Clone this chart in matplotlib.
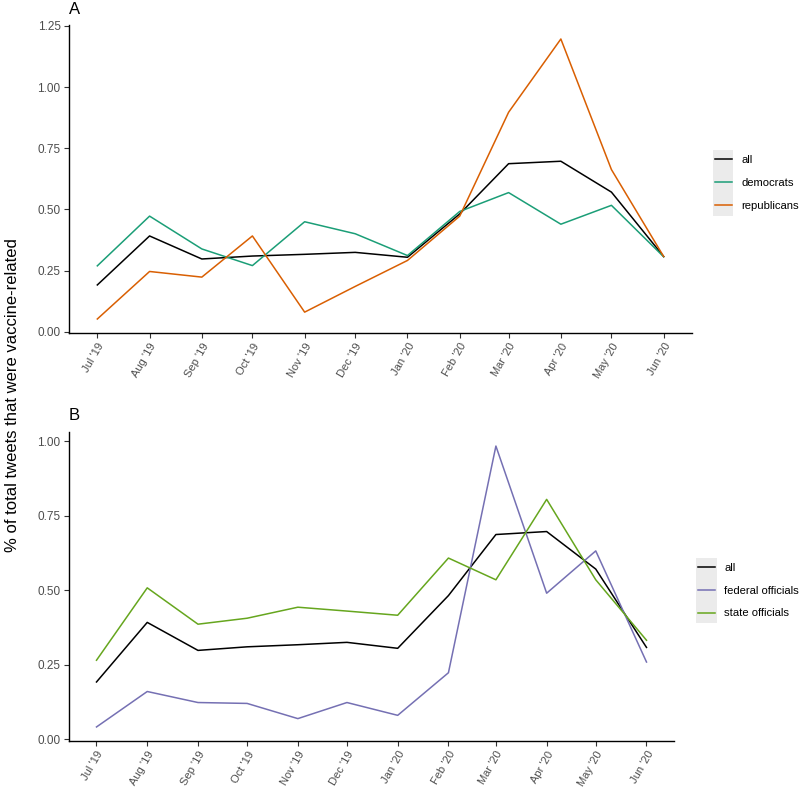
import numpy as np
import matplotlib
matplotlib.use("Agg")
import matplotlib.pyplot as plt
import matplotlib.dates as mdates
from matplotlib.patches import Rectangle
from datetime import date

plt.rcParams['font.family'] = ['Liberation Sans', 'DejaVu Sans']

months = [date(2019, m, 1) for m in range(7, 13)] + [date(2020, m, 1) for m in range(1, 7)]
month_labels = ["Jul '19", "Aug '19", "Sep '19", "Oct '19", "Nov '19", "Dec '19",
                "Jan '20", "Feb '20", "Mar '20", "Apr '20", "May '20", "Jun '20"]

all_tweets = [0.192, 0.392, 0.298, 0.310, 0.317, 0.325, 0.305, 0.482, 0.687, 0.697, 0.571, 0.308]
democrats = [0.270, 0.473, 0.339, 0.271, 0.450, 0.401, 0.312, 0.492, 0.569, 0.440, 0.517, 0.307]
republicans = [0.053, 0.247, 0.224, 0.392, 0.081, 0.186, 0.292, 0.473, 0.897, 1.196, 0.663, 0.308]
federal = [0.041, 0.160, 0.123, 0.120, 0.069, 0.123, 0.080, 0.223, 0.984, 0.490, 0.632, 0.259]
state = [0.265, 0.508, 0.386, 0.406, 0.443, 0.430, 0.416, 0.608, 0.535, 0.805, 0.535, 0.332]

C_ALL = "black"
C_DEM = "#1B9E77"
C_REP = "#D95F02"
C_FED = "#7570B3"
C_STATE = "#66A61E"

W, H = 800, 787
fig = plt.figure(figsize=(W / 100, H / 100), dpi=100)


def fx(px):
    return px / W


def fy(py):
    return 1 - py / H


def style_axes(ax, series):
    x = mdates.date2num(months)
    span = x[-1] - x[0]
    ax.set_xlim(x[0] - 0.05 * span, x[-1] + 0.05 * span)
    vals = np.concatenate([np.asarray(s) for s in series])
    r = vals.max() - vals.min()
    ax.set_ylim(vals.min() - 0.05 * r, vals.max() + 0.05 * r)
    ax.set_xticks(x)
    ax.set_xticklabels(month_labels, rotation=60, ha='right', va='top',
                       rotation_mode='anchor', fontsize=8)
    for sp in ['top', 'right']:
        ax.spines[sp].set_visible(False)
    for sp in ['left', 'bottom']:
        ax.spines[sp].set_linewidth(1.0)
    ax.tick_params(axis='y', labelsize=8.5, pad=2.5)
    ax.tick_params(axis='x', pad=2.5)
    ax.tick_params(labelcolor='#4D4D4D', length=3.5, width=0.8, color='#333333')
    ax.set_facecolor('white')


def legend_with_keys(handles, labels, x0, ytop, ybot, key_w):
    # grey key background like ggplot
    fig.patches.append(Rectangle((fx(x0), fy(ybot)), key_w / W, (ybot - ytop) / H,
                                 transform=fig.transFigure, facecolor='#EBEBEB',
                                 edgecolor='none', zorder=0))
    fig.legend(handles, labels, loc='center left',
               bbox_to_anchor=(fx(x0 + 2), fy((ytop + ybot) / 2)),
               frameon=False, fontsize=8.1, handlelength=1.5, handletextpad=0.85,
               labelspacing=1.15, borderpad=0, borderaxespad=0)


x = mdates.date2num(months)

# Panel A
axA = fig.add_axes([fx(69), fy(333), fx(692) - fx(69), fy(25) - fy(333)])
hA = [axA.plot(x, all_tweets, color=C_ALL, lw=1.1)[0],
      axA.plot(x, democrats, color=C_DEM, lw=1.1)[0],
      axA.plot(x, republicans, color=C_REP, lw=1.1)[0]]
style_axes(axA, [all_tweets, democrats, republicans])
axA.set_yticks([0, 0.25, 0.5, 0.75, 1.0, 1.25])
axA.set_yticklabels(['0.00', '0.25', '0.50', '0.75', '1.00', '1.25'])
legend_with_keys(hA, ['all', 'democrats', 'republicans'], 713, 150, 216, 20)
fig.text(fx(69), fy(10), 'A', fontsize=12, va='center', ha='left')

# Panel B
axB = fig.add_axes([fx(69), fy(741), fx(674) - fx(69), fy(432) - fy(741)])
hB = [axB.plot(x, all_tweets, color=C_ALL, lw=1.1)[0],
      axB.plot(x, federal, color=C_FED, lw=1.1)[0],
      axB.plot(x, state, color=C_STATE, lw=1.1)[0]]
style_axes(axB, [all_tweets, federal, state])
axB.set_yticks([0, 0.25, 0.5, 0.75, 1.0])
axB.set_yticklabels(['0.00', '0.25', '0.50', '0.75', '1.00'])
legend_with_keys(hB, ['all', 'federal officials', 'state officials'], 696, 558, 623, 21)
fig.text(fx(69), fy(415), 'B', fontsize=12, va='center', ha='left')

fig.text(fx(13), fy(395), '% of total tweets that were vaccine-related', rotation=90,
         fontsize=12, va='center', ha='center')

fig.savefig('out.png', dpi=100)
